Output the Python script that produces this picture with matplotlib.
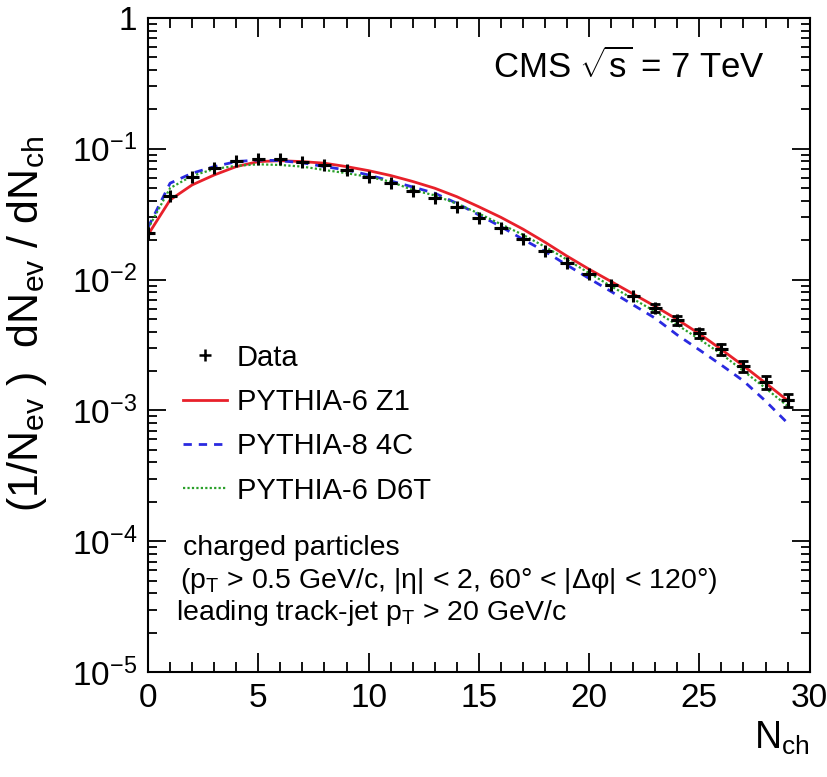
import numpy as np
import matplotlib
matplotlib.use("Agg")
from matplotlib import pyplot as plt
from matplotlib.lines import Line2D
from matplotlib.ticker import FixedLocator, FixedFormatter, MultipleLocator

plt.rcParams['font.family'] = ['Liberation Sans', 'DejaVu Sans']
plt.rcParams['mathtext.fontset'] = 'custom'
plt.rcParams['mathtext.rm'] = 'Liberation Sans'
plt.rcParams['mathtext.it'] = 'Liberation Sans'
plt.rcParams['mathtext.default'] = 'regular'

# charged multiplicity bins
n_ch = list(range(30))

data_y = [0.0226, 0.0436, 0.0605, 0.0717, 0.0802, 0.0831, 0.0831, 0.0797, 0.0748, 0.0689,
          0.0612, 0.0545, 0.0478, 0.0418, 0.0361, 0.0297, 0.0247, 0.0203, 0.0166, 0.0135,
          0.0110, 0.0091, 0.0075, 0.0061, 0.0049, 0.00388, 0.00293, 0.00218, 0.00164, 0.00120]
data_relerr = [0.03, 0.03, 0.03, 0.03, 0.03, 0.03, 0.03, 0.03, 0.03, 0.03,
               0.035, 0.035, 0.04, 0.04, 0.04, 0.045, 0.045, 0.05, 0.05, 0.055,
               0.06, 0.065, 0.07, 0.075, 0.08, 0.085, 0.09, 0.10, 0.11, 0.12]

z1_y = [0.0220, 0.0406, 0.0529, 0.0630, 0.0730, 0.0797, 0.0810, 0.0797, 0.0775, 0.0730,
        0.0680, 0.0624, 0.0562, 0.0499, 0.0430, 0.0360, 0.0299, 0.0243, 0.0193, 0.0151,
        0.0120, 0.00966, 0.00776, 0.00624, 0.00495, 0.00385, 0.00292, 0.00219, 0.00162, 0.00119]
c4_y = [0.0250, 0.0545, 0.0650, 0.0730, 0.0797, 0.0820, 0.0810, 0.0780, 0.0730, 0.0688,
        0.0630, 0.0567, 0.0510, 0.0457, 0.0383, 0.0312, 0.0254, 0.0203, 0.0164, 0.0129,
        0.0102, 0.0081, 0.0064, 0.00506, 0.00377, 0.00290, 0.00222, 0.00168, 0.00118, 0.00080]
d6t_y = [0.0245, 0.0500, 0.0620, 0.0700, 0.0740, 0.0760, 0.0751, 0.0730, 0.0688, 0.0650,
         0.0610, 0.0560, 0.0484, 0.0440, 0.0380, 0.0320, 0.0265, 0.0220, 0.0178, 0.0142,
         0.0112, 0.0089, 0.0071, 0.0057, 0.0045, 0.0035, 0.0027, 0.0020, 0.00148, 0.00108]

y_ticks = [1e-5, 1e-4, 1e-3, 1e-2, 1e-1, 1]
y_ticklabels = ['10$^{-5}$', '10$^{-4}$', '10$^{-3}$', '10$^{-2}$', '10$^{-1}$', '1']

data_y = np.array(data_y)
yerr = data_y * np.array(data_relerr)
capped = 23  # from here on the error bars stick out of the marker

fig = plt.figure(figsize=(8.27, 7.77), dpi=100)
ax = fig.add_axes([0.179, 0.135, 0.800, 0.842])

ax.plot(n_ch, z1_y, color='#e8202a', lw=2.0, label='PYTHIA-6 Z1')
ax.plot(n_ch, c4_y, color='#2a2ae0', lw=2.0, ls=(0, (3, 2.5)), label='PYTHIA-8 4C')
ax.plot(n_ch, d6t_y, color='#2aa02a', lw=1.6, ls=(0, (1, 1)), label='PYTHIA-6 D6T')
ax.errorbar(n_ch, data_y, yerr=yerr, xerr=0.3, fmt='+', color='black', ms=9,
            mew=2.2, elinewidth=2.2, capsize=0, zorder=5)
ax.errorbar(n_ch[capped:], data_y[capped:], yerr=yerr[capped:], fmt='none',
            ecolor='black', elinewidth=2.0, capsize=3.5, capthick=2.0, zorder=5)

ax.set_yscale('log')
ax.set_xlim(0, 30)
ax.set_ylim(1e-5, 1)
ax.yaxis.set_major_locator(FixedLocator(y_ticks))
ax.yaxis.set_major_formatter(FixedFormatter(y_ticklabels))
minor = [m * 10.0 ** e for e in range(-5, 0) for m in range(2, 10)]
ax.yaxis.set_minor_locator(FixedLocator(minor))
ax.xaxis.set_major_locator(MultipleLocator(5))
ax.xaxis.set_minor_locator(MultipleLocator(1))

ax.tick_params(which='both', direction='in', top=True, right=True, width=1.3,
               labelsize=24, pad=8)
ax.tick_params(axis='x', which='major', length=14)
ax.tick_params(axis='x', which='minor', length=7)
ax.tick_params(axis='y', which='major', length=13)
ax.tick_params(axis='y', which='minor', length=6.5)
for s in ax.spines.values():
    s.set_linewidth(1.5)

ax.set_xlabel('N$_{ch}$', fontsize=27, loc='right')
ax.set_ylabel('(1/N$_{ev}$ )  dN$_{ev}$ / dN$_{ch}$', fontsize=31)
ax.yaxis.set_label_coords(-0.15, 0.532)

handles, labels = ax.get_legend_handles_labels()
data_handle = Line2D([], [], ls='none', marker='+', color='black', ms=9, mew=1.8)
ax.legend([data_handle] + handles, ['Data'] + labels,
          loc='upper left', bbox_to_anchor=(0.053, 0.502), frameon=False,
          fontsize=21, handlelength=1.5, handletextpad=0.35, labelspacing=0.56,
          borderpad=0, borderaxespad=0)

ax.text(0.932, 0.925, r'CMS $\sqrt{s}$ = 7 TeV', transform=ax.transAxes,
        ha='right', va='center', fontsize=25)
ax.text(0.053, 0.190, 'charged particles', transform=ax.transAxes,
        ha='left', va='center', fontsize=20.5)
ax.text(0.048, 0.140, '(p$_{T}$ > 0.5 GeV/c, |η| < 2, 60° < |Δφ| < 120°)',
        transform=ax.transAxes, ha='left', va='center', fontsize=20.5)
ax.text(0.042, 0.090, 'leading track-jet p$_{T}$ > 20 GeV/c', transform=ax.transAxes,
        ha='left', va='center', fontsize=20.5)

fig.savefig('out.png', dpi=100)
